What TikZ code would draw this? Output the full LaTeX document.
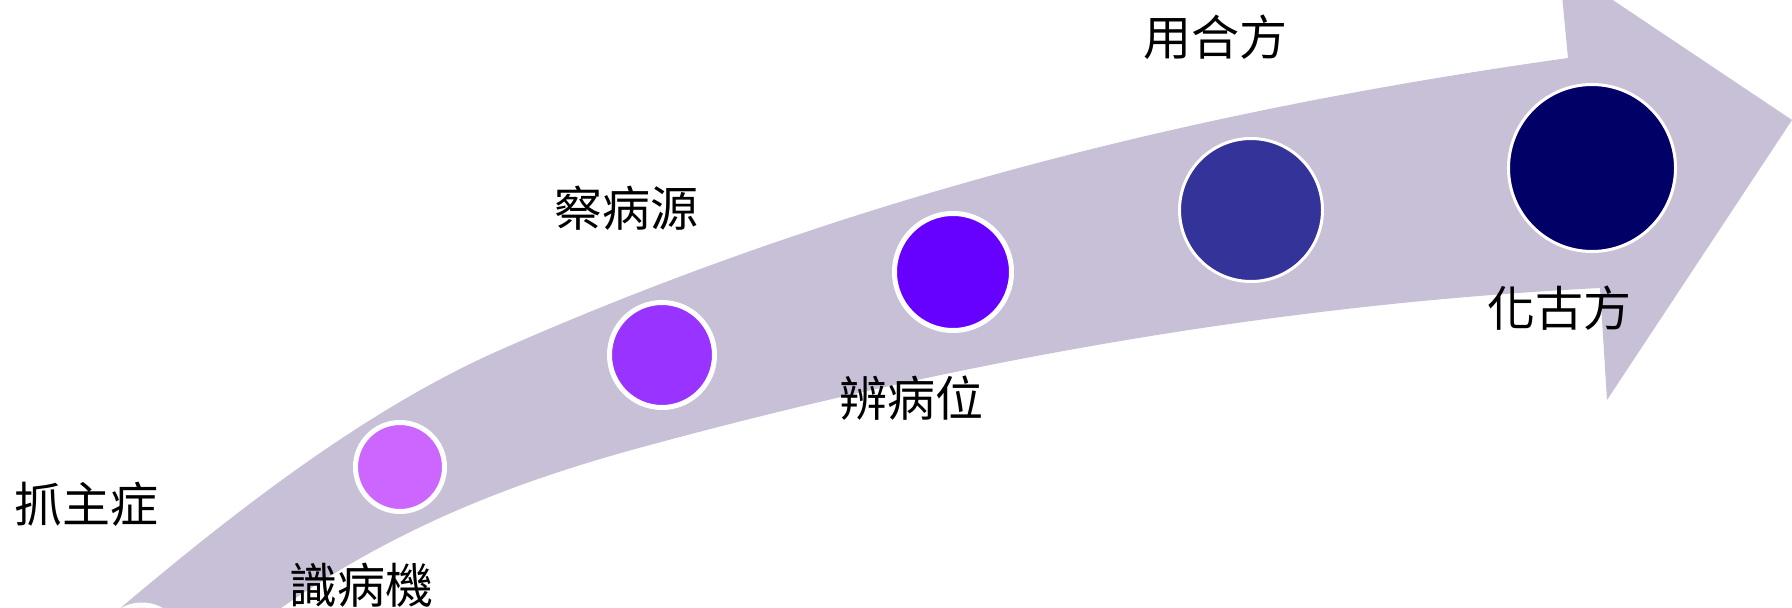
\documentclass[tikz,border=0pt]{standalone}
\usepackage{fontspec}
\newfontfamily\cjk{Noto Sans CJK TC}
\definecolor{arrowc}{RGB}{199,192,215}
\definecolor{c0}{HTML}{FFCCFF}
\definecolor{c1}{HTML}{CC66FF}
\definecolor{c2}{HTML}{9933FF}
\definecolor{c3}{HTML}{6600FF}
\definecolor{c4}{HTML}{333399}
\definecolor{c5}{HTML}{000066}
\tikzset{
  dot/.style={circle, draw=white, line width=5pt, inner sep=0pt},
  thindot/.style={circle, draw=white, line width=3pt, inner sep=0pt},
  lbl/.style={inner sep=0pt, font=\cjk\fontsize{48}{48}\selectfont, text=black}
}
\begin{document}
\begin{tikzpicture}[x=1pt, y=-1pt]
\useasboundingbox (0,0) rectangle (1792,608);
\clip (0,0) rectangle (1792,608);
% curved arrow body
\coordinate (u0) at (60,660);
\coordinate (u1) at (500,350);
\coordinate (u2) at (1568,58);
\coordinate (hk) at (1559,-36);
\coordinate (tip) at (1792,120);
\coordinate (hb) at (1607,400);
\coordinate (l0) at (1600,288);
\coordinate (l1) at (650,445);
\coordinate (l2) at (225,650);
\fill[arrowc]
  (u0) .. controls (207,532) and (353,415) .. (u1)
  .. controls (856,193) and (1212,108) .. (u2)
  -- (hk) -- (tip) -- (hb) -- (l0)
  .. controls (1283,304) and (967,359) .. (l1)
  .. controls (508,483) and (367,536) .. (l2)
  -- cycle;
% circles
\node[dot, minimum size=80pt, fill=c0] (c0) at (142,645) {};
\node[dot, minimum size=89pt, fill=c1] (c1) at (400,467) {};
\node[dot, minimum size=105pt, fill=c2] (c2) at (662,355) {};
\node[dot, minimum size=117pt, fill=c3] (c3) at (953,272) {};
\node[thindot, minimum size=143pt, fill=c4] (c4) at (1251,210) {};
\node[thindot, minimum size=167pt, fill=c5] (c5) at (1592,168) {};
% labels
\node[lbl] (t0) at (86,504) {抓主症};
\node[lbl] (t1) at (361,585) {識病機};
\node[lbl] (t2) at (626,208) {察病源};
\node[lbl] (t3) at (911,398) {辨病位};
\node[lbl] (t4) at (1215,37) {用合方};
\node[lbl] (t5) at (1559,308) {化古方};
\end{tikzpicture}
\end{document}
